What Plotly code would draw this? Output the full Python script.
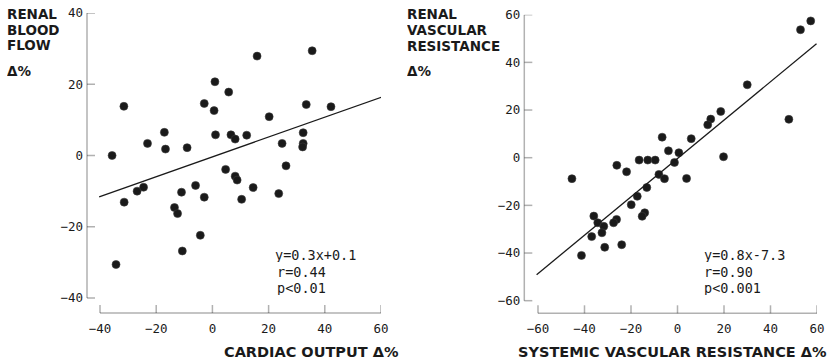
import plotly.graph_objects as go

W, H = 834, 361

# ---------------- data ----------------
co_x = [-35.7, -31.5, -23.1, -17.1, -16.7, -9.0, -2.9, 0.6, 0.9, 1.1, 5.8, 6.6, 8.1, 12.2,
        15.9, 20.2, 24.8, 26.2, 32.3, 32.3, 32.1, 33.4, 35.5, 42.2, 4.7, 8.1, 8.8,
        -31.4, -26.8, -24.5, -11.0, -6.0, -2.9, -13.5, -12.4, -4.3, -10.7, -34.3,
        10.4, 14.5, 23.6]
rbf_y = [0.0, 13.8, 3.4, 6.5, 1.8, 2.2, 14.6, 12.6, 20.7, 5.8, 17.8, 5.8, 4.6, 5.7,
         27.9, 10.9, 3.4, -2.9, 6.4, 3.4, 2.4, 14.3, 29.4, 13.7, -3.9, -5.8, -6.9,
         -13.1, -10.0, -8.9, -10.3, -8.4, -11.7, -14.6, -16.3, -22.4, -26.8, -30.6,
         -12.3, -9.0, -10.7]
fit1_x = [-40.3, 61.7]
fit1_y = [-11.6, 16.8]

svr_x = [57.3, 52.9, 30.0, 47.9, 18.6, 14.3, 13.0, 19.8, 5.9, -6.6, -3.9, 0.6, -1.3,
         -16.5, -12.8, -9.6, -26.1, -21.9, -45.4, -8.0, -5.6, 3.9, -13.2, -17.3, -19.9,
         -14.1, -15.2, -26.2, -27.5, -36.0, -34.3, -31.7, -32.5, -36.9, -31.3, -24.0, -41.3]
rvr_y = [57.4, 53.7, 30.6, 16.1, 19.4, 16.2, 13.8, 0.4, 8.0, 8.6, 2.9, 2.1, -2.0,
         -1.0, -1.0, -1.0, -3.2, -5.9, -8.8, -7.0, -8.8, -8.7, -12.5, -16.2, -19.7,
         -23.1, -24.6, -25.9, -27.3, -24.5, -27.3, -28.8, -31.5, -33.1, -37.6, -36.5, -41.0]
fit2_x = [-60.6, 59.8]
fit2_y = [-49.1, 47.8]

left_xticks = [-40, -20, 0, 20, 40, 60]
left_yticks = [-40, -20, 0, 20, 40]
right_xticks = [-60, -40, -20, 0, 20, 40, 60]
right_yticks = [-60, -40, -20, 0, 20, 40, 60]

left_stats = ["y=0.3x+0.1", "r=0.44", "p<0.01"]
right_stats = ["y=0.8x-7.3", "r=0.90", "p<0.001"]
left_ytitle = ["RENAL", "BLOOD", "FLOW", "Δ%"]
right_ytitle = ["RENAL", "VASCULAR", "RESISTANCE", "Δ%"]
left_xtitle = "CARDIAC OUTPUT Δ%"
right_xtitle = "SYSTEMIC VASCULAR RESISTANCE Δ%"

# ---------------- helpers ----------------
def px_x(p):
    return p / W

def px_y(p):
    return (H - p) / H

INK = "black"
DOT = "#1a1a1a"
MONO = "DejaVu Sans Mono"
SANS = "DejaVu Sans"
TICK_PX = 8
LW = 1.5

fig = go.Figure()

mk = dict(size=8, color=DOT, line=dict(color="#3a3a3a", width=0.6))
fig.add_trace(go.Scatter(x=co_x, y=rbf_y, mode="markers", marker=mk,
                         xaxis="x", yaxis="y", showlegend=False))
fig.add_trace(go.Scatter(x=fit1_x, y=fit1_y, mode="lines", line=dict(color=DOT, width=1.3),
                         xaxis="x", yaxis="y", showlegend=False))
fig.add_trace(go.Scatter(x=svr_x, y=rvr_y, mode="markers", marker=mk,
                         xaxis="x2", yaxis="y2", showlegend=False))
fig.add_trace(go.Scatter(x=fit2_x, y=fit2_y, mode="lines", line=dict(color=DOT, width=1.3),
                         xaxis="x2", yaxis="y2", showlegend=False))

tickfont = dict(family=MONO, size=12.5, color=DOT)
ax = dict(showgrid=False, zeroline=False, showline=False, ticks="",
          showticklabels=True, tickfont=tickfont, fixedrange=True, automargin=False)

# pixel geometry of the two panels (frame drawn a little outside the tick span)
L_X = (87, 381)
L_Y = (313, 13)
R_X = (524.3, 817)
R_Y = (313.3, 14.7)

fig.update_layout(
    template="simple_white",
    width=W, height=H, margin=dict(l=0, r=0, t=0, b=0, autoexpand=False),
    paper_bgcolor="white", plot_bgcolor="white",
    xaxis=dict(domain=[px_x(L_X[0]), px_x(L_X[1])], range=[-44.63, 60], anchor="y",
               tickvals=left_xticks, ticklabelstandoff=6, **ax),
    yaxis=dict(domain=[px_y(L_Y[0]), px_y(L_Y[1])], range=[-44.21, 40], anchor="x",
               tickvals=left_yticks, ticklabelstandoff=3, **ax),
    xaxis2=dict(domain=[px_x(R_X[0]), px_x(R_X[1])], range=[-65.89, 60], anchor="y2",
                tickvals=right_xticks, ticklabelstandoff=6, **ax),
    yaxis2=dict(domain=[px_y(R_Y[0]), px_y(R_Y[1])], range=[-65.29, 60], anchor="x2",
                tickvals=right_yticks, ticklabelstandoff=3, **ax),
)

# detached axis lines and inward tick marks, built from the tick arrays
shapes = []
def frame(xa, ya, xticks, yticks, xpx, ypx):
    lw = dict(color=INK, width=LW)
    fx = TICK_PX / abs(xpx[1] - xpx[0])
    fy = TICK_PX / abs(ypx[0] - ypx[1])
    # x axis line from first to last tick, at bottom of the panel
    shapes.append(dict(type="line", xref=xa, yref=ya + " domain", x0=xticks[0], x1=xticks[-1],
                       y0=0, y1=0, line=lw, layer="above"))
    for t in xticks:
        shapes.append(dict(type="line", xref=xa, yref=ya + " domain", x0=t, x1=t,
                           y0=0, y1=fy, line=lw, layer="above"))
    # y axis line from first to last tick, at left of the panel
    shapes.append(dict(type="line", xref=xa + " domain", yref=ya, x0=0, x1=0,
                       y0=yticks[0], y1=yticks[-1], line=lw, layer="above"))
    for t in yticks:
        shapes.append(dict(type="line", xref=xa + " domain", yref=ya, x0=0, x1=fx,
                           y0=t, y1=t, line=lw, layer="above"))

frame("x", "y", left_xticks, left_yticks, L_X, L_Y)
frame("x2", "y2", right_xticks, right_yticks, R_X, R_Y)
fig.update_layout(shapes=shapes)

anns = []
def txt(x, y, s, font, height=None):
    d = dict(x=px_x(x), y=px_y(y), xref="paper", yref="paper", text=s,
             showarrow=False, xanchor="left", yanchor="middle", font=font,
             borderpad=0, borderwidth=0)
    if height:
        d["height"] = height
    anns.append(d)

statfont = dict(family=MONO, size=13.5, color=DOT)
for i, (xo, s) in enumerate(zip([275, 277, 277], left_stats)):
    txt(xo, 255 + 16 * i, s, statfont, height=15)
for i, (xo, s) in enumerate(zip([704, 704, 704], right_stats)):
    txt(xo, 255 + 16 * i, s, statfont, height=15)

titlefont = dict(family=SANS, size=13.5, color=DOT, weight="bold")
for yy, s in zip([14.5, 30, 45, 71], left_ytitle):
    txt(7, yy, s, titlefont, height=14)
for yy, s in zip([14.5, 30.5, 46, 71], right_ytitle):
    txt(407, yy, s, titlefont, height=14)

xtfont = dict(family=SANS, size=14.5, color=DOT, weight="bold")
txt(224, 352, left_xtitle, xtfont)
txt(518, 352, right_xtitle, xtfont)

fig.update_layout(annotations=anns)
fig.write_html("out.html")
